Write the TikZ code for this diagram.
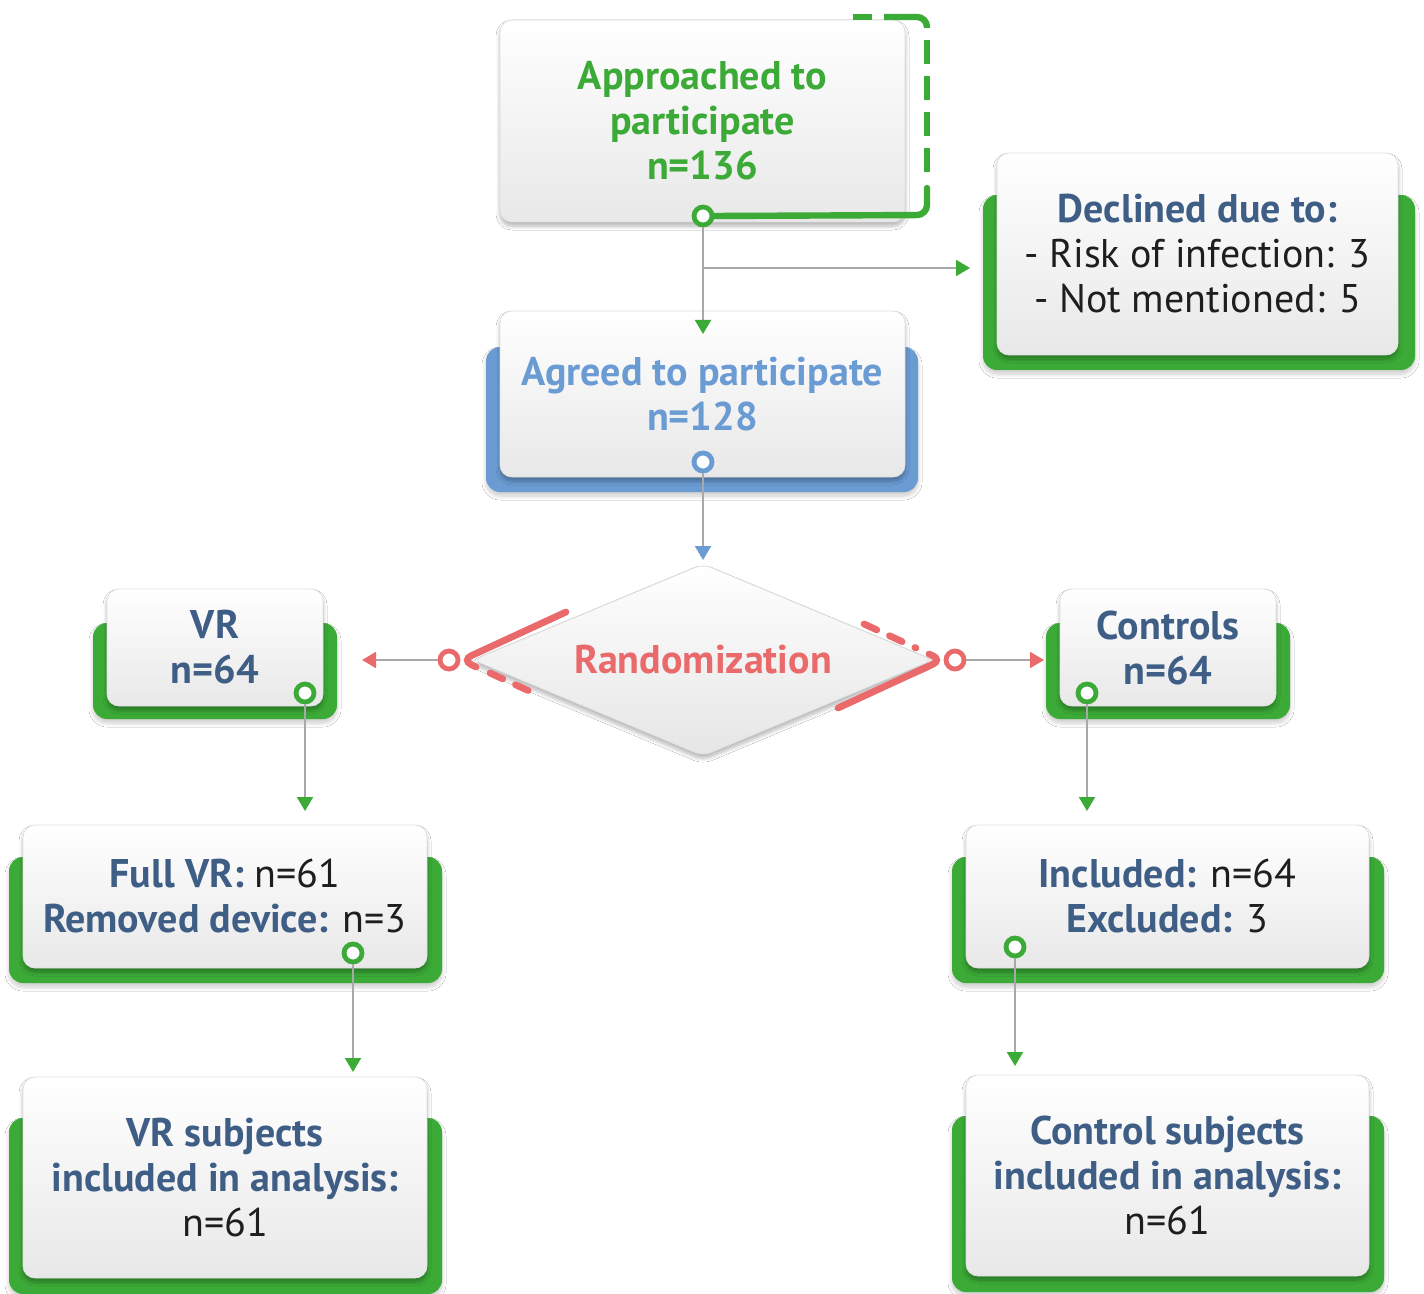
\documentclass[tikz,border=0pt]{standalone}
\usepackage{fontspec}
\setmainfont{PT Sans}
\usetikzlibrary{arrows.meta,shapes.geometric,shadows.blur}
\definecolor{cgreen}{HTML}{3BAA36}
\definecolor{cblue}{HTML}{6A9BD3}
\definecolor{cred}{HTML}{EA6A6C}
\definecolor{cnavy}{HTML}{3F5E86}
\definecolor{ctext}{HTML}{1E1E1E}
\definecolor{cline}{HTML}{A8A8A8}
\newcommand\myfs{\fontsize{20}{22.5}\selectfont}
\tikzset{
  face/.style={rectangle, rounded corners=6pt, top color=white, bottom color=black!9,
    draw=black!12, line width=0.4pt, align=center, font=\myfs, inner sep=0pt,
    blur shadow={shadow blur steps=8, shadow xshift=0pt, shadow yshift=-2pt, shadow opacity=30}},
  backbox/.style={rectangle, rounded corners=7pt, fill=#1, inner sep=0pt,
    blur shadow={shadow blur steps=8, shadow xshift=0pt, shadow yshift=-2pt, shadow opacity=20}},
  ring/.style={circle, draw=#1, line width=2.4pt, fill=white, minimum size=9pt, inner sep=0pt},
  conn/.style={draw=cline, line width=1pt},
  tipto/.style={-{Triangle[length=7pt,width=8pt,color=#1]}},
  bracket/.style={draw=#1, line width=3.4pt, line cap=round, rounded corners=5pt},
}
\begin{document}
\begin{tikzpicture}[x=0.5pt,y=-0.5pt]
\useasboundingbox[fill=white] (0,0) rectangle (1424,1294);

% back plates
\node[backbox=cgreen, minimum width=216pt, minimum height=87.5pt] (decb) at (1199,282.5) {};
\node[backbox=cblue, minimum width=216pt, minimum height=72.5pt] (agrb) at (702,419.5) {};
\node[backbox=cgreen, minimum width=122pt, minimum height=48pt] (vrb) at (215,671) {};
\node[backbox=cgreen, minimum width=122pt, minimum height=48pt] (ctb) at (1168,671) {};
\node[backbox=cgreen, minimum width=216.5pt, minimum height=63pt] (fvb) at (225.5,920) {};
\node[backbox=cgreen, minimum width=216pt, minimum height=63pt] (incb) at (1168,920) {};
\node[backbox=cgreen, minimum width=216.5pt, minimum height=88pt] (vsb) at (225.5,1206) {};
\node[backbox=cgreen, minimum width=216pt, minimum height=88pt] (csb) at (1168,1204) {};

% faces
\node[face, minimum width=202.5pt, minimum height=101pt, text=cgreen, font=\myfs\bfseries] (app) at (702.5,121)
  {Approached to\\participate\\n=136};
\node[face, minimum width=200.5pt, minimum height=101pt] (dec) at (1197.5,254)
  {{\color{cnavy}\bfseries Declined due to:}\\{\color{ctext}- Risk of infection: 3}\\{\color{ctext}- Not mentioned: 5}};
\node[face, minimum width=202.5pt, minimum height=83pt, text=cblue, font=\myfs\bfseries] (agr) at (702.5,394)
  {Agreed to participate\\n=128};
\node[face, minimum width=108pt, minimum height=58.5pt, text=cnavy, font=\myfs\bfseries] (vr) at (215,647.5)
  {VR\\n=64};
\node[face, minimum width=108pt, minimum height=58.5pt, text=cnavy, font=\myfs\bfseries] (ct) at (1168,647.5)
  {Controls\\n=64};
\node[face, minimum width=202pt, minimum height=71.5pt] (fv) at (225,896.5)
  {{\color{cnavy}\bfseries Full VR:} {\color{ctext}n=61}\\{\color{cnavy}\bfseries Removed device:} {\color{ctext}n=3}};
\node[face, minimum width=201.5pt, minimum height=71.5pt] (inc) at (1167.5,896.5)
  {{\color{cnavy}\bfseries Included:} {\color{ctext}n=64}\\{\color{cnavy}\bfseries Excluded:} {\color{ctext}3}};
\node[face, minimum width=202pt, minimum height=100.5pt] (vs) at (225,1177.5)
  {{\color{cnavy}\bfseries VR subjects}\\{\color{cnavy}\bfseries included in analysis:}\\{\color{ctext}n=61}};
\node[face, minimum width=201.5pt, minimum height=100.5pt] (cs) at (1167.5,1175.5)
  {{\color{cnavy}\bfseries Control subjects}\\{\color{cnavy}\bfseries included in analysis:}\\{\color{ctext}n=61}};

% diamond
\node[diamond, aspect=2.4, minimum width=230pt, minimum height=96pt, inner sep=0pt,
  rounded corners=4pt, top color=white, bottom color=black!10, draw=black!12, line width=0.4pt,
  blur shadow={shadow blur steps=8, shadow xshift=0pt, shadow yshift=-2pt, shadow opacity=30},
  text=cred, font=\myfs\bfseries] (rnd) at (703,660) {Randomization};

% red brackets
\draw[bracket=cred] (566,612) -- (462,660) -- (476,667);
\draw[bracket=cred, dash pattern=on 7pt off 7pt, rounded corners=0pt] (490,673) -- (540,696);
\draw[bracket=cred, dash pattern=on 7pt off 7pt, rounded corners=0pt] (864,624) -- (916,648);
\draw[bracket=cred] (929,654) -- (942,660) -- (838,708);

% rings
\node[ring=cgreen] (r1) at (703,216) {};
\node[ring=cblue] (r2) at (703,462) {};
\node[ring=cred] (rl) at (449,660) {};
\node[ring=cred] (rr) at (955,660) {};
\node[ring=cgreen] (r3) at (305,693) {};
\node[ring=cgreen] (r4) at (1087,693) {};
\node[ring=cgreen] (r5) at (353,953) {};
\node[ring=cgreen] (r6) at (1015,947) {};

% green bracket around approached
\draw[bracket=cgreen, line width=3.2pt] (r1.east) -- (927,215) -- (927,188);
\draw[draw=cgreen, line width=3.2pt, dash pattern=on 12pt off 6pt] (927,172) -- (927,30);
\draw[draw=cgreen, line width=3.2pt, rounded corners=5pt] (927,28) -- (927,17) -- (884,17);
\draw[draw=cgreen, line width=3.2pt] (872,17) -- (853,17);

% target coordinates
\coordinate (t1) at (703,334);
\coordinate (br) at (703,268);
\coordinate (t2) at (970,268);
\coordinate (t3) at (703,560);
\coordinate (t4) at (362,660);
\coordinate (t5) at (1044,660);
\coordinate (t6) at (305,811);
\coordinate (t7) at (1087,811);
\coordinate (t8) at (353,1072);
\coordinate (t9) at (1015,1066);

% connectors
\draw[conn, tipto=cgreen] (r1) -- (t1);
\draw[conn, tipto=cgreen] (br) -- (t2);
\draw[conn, tipto=cblue] (r2) -- (t3);
\draw[conn, tipto=cred] (rl) -- (t4);
\draw[conn, tipto=cred] (rr) -- (t5);
\draw[conn, tipto=cgreen] (r3) -- (t6);
\draw[conn, tipto=cgreen] (r4) -- (t7);
\draw[conn, tipto=cgreen] (r5) -- (t8);
\draw[conn, tipto=cgreen] (r6) -- (t9);
\end{tikzpicture}
\end{document}
